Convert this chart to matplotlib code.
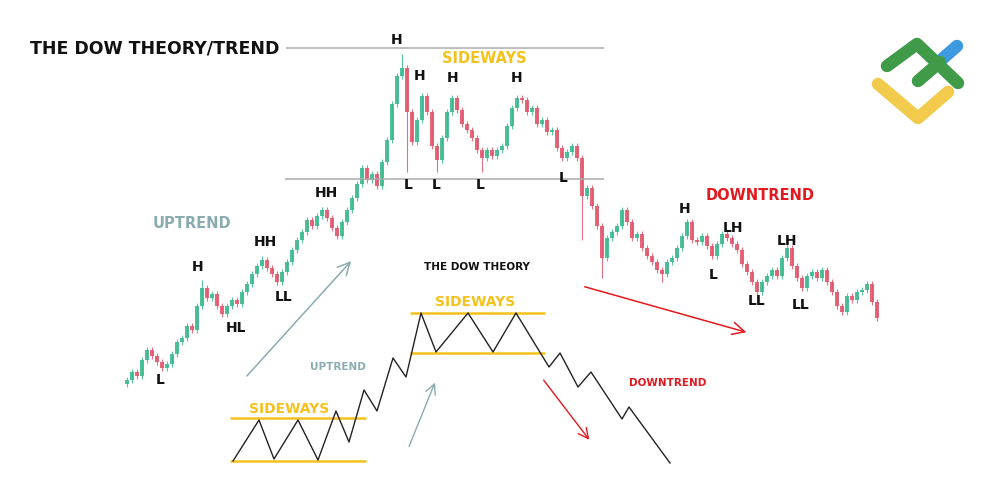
import matplotlib
matplotlib.use("Agg")
import matplotlib.pyplot as plt

# candle closes in picture units (y grows downward), one candle every 5 px
x_start = 127
x_step = 5
closes = [
    380, 372, 376, 360, 350, 356, 362, 368, 364, 354,
    342, 338, 326, 330, 306, 288, 298, 294, 306, 314,
    306, 300, 304, 292, 284, 274, 266, 260, 268, 274,
    282, 272, 262, 250, 240, 232, 220, 226, 216, 210,
    218, 228, 236, 222, 210, 198, 184, 168, 180, 174,
    186, 162, 140, 104, 76, 68, 112, 142, 120, 96,
    112, 146, 160, 138, 112, 98, 110, 124, 130, 138,
    150, 158, 150, 156, 150, 146, 126, 108, 98, 100,
    112, 108, 124, 120, 132, 130, 148, 158, 152, 146,
    158, 196, 188, 206, 226, 258, 238, 232, 226, 210,
    222, 238, 234, 248, 256, 262, 270, 274, 262, 258,
    248, 236, 222, 240, 242, 236, 246, 256, 244, 234,
    238, 244, 250, 264, 272, 282, 292, 282, 276, 270,
    276, 258, 248, 266, 278, 288, 276, 272, 278, 270,
    282, 292, 306, 312, 296, 300, 292, 290, 284, 302, 318,
]
first_open = 384
long_highs = {55: 54, 15: 280, 27: 256, 86: 144}
long_lows = {56: 172, 62: 172, 71: 172, 91: 240, 95: 278, 107: 282}

# H / L markers
pivot_labels = ["L", "H", "HL", "HH", "LL", "HH", "H", "H", "H", "H",
                "L", "L", "L", "L", "H", "L", "LH", "LH", "LL", "LL"]
pivot_x = [160, 198, 236, 265, 284, 326, 397, 420, 453, 517,
           408, 436, 480, 563, 685, 713, 733, 787, 757, 801]
pivot_y = [380, 267, 328, 242, 297, 193, 40, 76, 78, 78,
           185, 185, 185, 178, 209, 275, 228, 241, 301, 305]

# schematic zigzag of the lower diagram
zig_x = [233, 259, 274, 298, 318, 336, 349, 364, 377, 393, 406, 421, 436,
         468, 493, 516, 549, 560, 578, 591, 622, 629, 670]
zig_y = [461, 420, 459, 420, 460, 411, 442, 390, 411, 358, 377, 313, 352,
         313, 352, 313, 367, 353, 387, 372, 419, 407, 463]

GREEN = "#3cb98f"
RED = "#e2566c"
GOLD = "#f4c21b"
TEAL = "#8aacb0"
TREND_RED = "#e3191f"

fig = plt.figure(figsize=(10, 5.01), dpi=100)
ax = fig.add_axes([0, 0, 1, 1])
ax.set_xlim(0, 1000)
ax.set_ylim(501, 0)
ax.axis("off")

# candles
opens = [first_open] + closes[:-1]
for i, (o, c) in enumerate(zip(opens, closes)):
    x = x_start + i * x_step
    col = GREEN if c < o else RED
    top = min(o, c) - 3
    bot = max(o, c) + 3
    top = min(top, long_highs.get(i, top))
    bot = max(bot, long_lows.get(i, bot))
    ax.vlines(x, top, bot, color=col, lw=0.8, alpha=0.85)
    h = max(abs(o - c), 1.5)
    ax.bar(x, h, bottom=min(o, c), width=3.2, color=col, alpha=0.9, lw=0)

# range lines
ax.hlines(48, 286, 604, color="#ababab", lw=1.1)
ax.hlines(179, 285, 604, color="#ababab", lw=1.1)

ax.text(30, 48, "THE DOW THEORY/TREND", fontsize=12.5, fontweight="bold",
        color="#111111", ha="left", va="center")

for lab, x, y in zip(pivot_labels, pivot_x, pivot_y):
    ax.text(x, y, lab, fontsize=10, fontweight="bold", color="#111111",
            ha="center", va="center")

ax.text(484, 58, "SIDEWAYS", fontsize=10.5, fontweight="bold", color=GOLD,
        ha="center", va="center")
ax.text(192, 224, "UPTREND", fontsize=10.5, fontweight="bold", color=TEAL,
        ha="center", va="center")
ax.text(760, 196, "DOWNTREND", fontsize=10.5, fontweight="bold",
        color=TREND_RED, ha="center", va="center")

# big trend arrows
ax.annotate("", xy=(353, 259), xytext=(245, 378),
            arrowprops=dict(arrowstyle="->", color=TEAL, lw=1.1,
                            mutation_scale=22))
ax.annotate("", xy=(749, 333), xytext=(582, 286),
            arrowprops=dict(arrowstyle="->", color=TREND_RED, lw=1.1,
                            mutation_scale=22))

# lower diagram
ax.text(477, 267, "THE DOW THEORY", fontsize=7.5, fontweight="bold",
        color="#111111", ha="center", va="center")
ax.hlines([418, 461], 230, 366, color=GOLD, lw=1.8)
ax.hlines([313, 353], 410, 545, color=GOLD, lw=1.8)
ax.plot(zig_x, zig_y, color="#222222", lw=1.0)
ax.text(289, 409, "SIDEWAYS", fontsize=10, fontweight="bold", color=GOLD,
        ha="center", va="center")
ax.text(475, 302, "SIDEWAYS", fontsize=10, fontweight="bold", color=GOLD,
        ha="center", va="center")
ax.text(338, 367, "UPTREND", fontsize=7.5, fontweight="bold", color=TEAL,
        ha="center", va="center")
ax.text(668, 383, "DOWNTREND", fontsize=7.5, fontweight="bold",
        color=TREND_RED, ha="center", va="center")
ax.annotate("", xy=(436, 380), xytext=(408, 449),
            arrowprops=dict(arrowstyle="->", color=TEAL, lw=1.0,
                            mutation_scale=18))
ax.annotate("", xy=(591, 442), xytext=(542, 378),
            arrowprops=dict(arrowstyle="->", color=TREND_RED, lw=1.0,
                            mutation_scale=18))

# logo
ax.plot([940, 957], [61, 46], color="#3d9ae0", lw=9,
        solid_capstyle="round")
ax.plot([887, 917, 958], [66, 44, 83], color="#3f9b48", lw=9,
        solid_capstyle="round", solid_joinstyle="round")
ax.plot([918, 940], [81, 62], color="#3f9b48", lw=9,
        solid_capstyle="round")
ax.plot([878, 918, 948], [84, 118, 92], color="#f2cb4c", lw=9,
        solid_capstyle="round", solid_joinstyle="round")

fig.savefig("out.png", dpi=100, facecolor="white")
